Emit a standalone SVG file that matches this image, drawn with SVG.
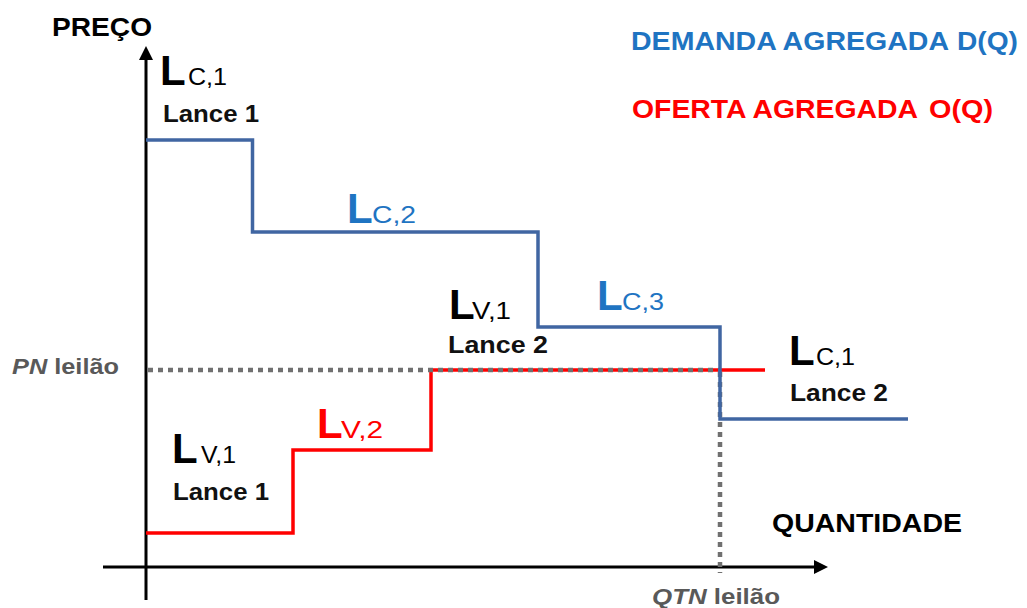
<svg xmlns="http://www.w3.org/2000/svg" width="1027" height="608" viewBox="0 0 1027 608">
<defs>
<marker id="arrow" viewBox="0 0 10 10" refX="4" refY="5" markerWidth="14" markerHeight="14" markerUnits="userSpaceOnUse" orient="auto">
<path d="M0,0 L10,5 L0,10 z" fill="#000"/>
</marker>
</defs>
<style>
text{font-family:"Liberation Sans",Arial,sans-serif;}
.ax{stroke:#000;stroke-width:3;fill:none;}
.big{font-size:42px;font-weight:bold;}
.sub{font-size:23px;}
.lance{font-size:23px;font-weight:bold;fill:#111;}
.title{font-size:25px;font-weight:bold;}
.blue{fill:#1f74c2;}
.red{fill:#ff0000;}
.dem{stroke:#4066a2;stroke-width:3.5;fill:none;}
.ofe{stroke:#ff0000;stroke-width:3.5;fill:none;}
.dot{stroke:#707070;stroke-width:4.5;stroke-dasharray:5 5;fill:none;}
.gray{fill:#595959;font-size:22px;font-weight:bold;}
</style>
<rect width="1027" height="608" fill="#fff"/>
<g id="axes">
<line class="ax" x1="146" y1="600" x2="146" y2="54.4" marker-end="url(#arrow)"/>
<line class="ax" x1="103" y1="567" x2="819.6" y2="567" marker-end="url(#arrow)"/>
</g>
<g id="connectors">
<path id="oferta" class="ofe" d="M146,533 H293 V450 H431 V370 H765"/>
<path class="dot" d="M148,370 H720"/>
<path class="dot" d="M720,372 V573"/>
<path id="demanda" class="dem" d="M146,140 H252.5 V232 H538 V327 H720 V419 H908"/>
</g>
<g id="axis-labels">
<text x="52" y="36" class="title" textLength="100" lengthAdjust="spacingAndGlyphs">PREÇO</text>
<text x="772" y="532" class="title" textLength="190" lengthAdjust="spacingAndGlyphs">QUANTIDADE</text>
<text x="12" y="374" class="gray" textLength="107" lengthAdjust="spacingAndGlyphs"><tspan font-style="italic">PN</tspan> leilão</text>
<text x="652" y="604" class="gray" textLength="128" lengthAdjust="spacingAndGlyphs"><tspan font-style="italic">QTN</tspan> leilão</text>
</g>
<g id="legend">
<text x="631" y="50" class="title blue" font-size="26" textLength="318" lengthAdjust="spacingAndGlyphs">DEMANDA AGREGADA</text>
<text x="957" y="50" class="title blue" font-size="26" textLength="61" lengthAdjust="spacingAndGlyphs">D(Q)</text>
<text x="632" y="118" class="title red" font-size="26" textLength="286" lengthAdjust="spacingAndGlyphs">OFERTA AGREGADA</text>
<text x="929" y="118" class="title red" font-size="26" textLength="64" lengthAdjust="spacingAndGlyphs">O(Q)</text>
</g>
<g id="lc1-lance1">
<text x="160" y="85" class="big">L</text>
<text x="188" y="85" class="sub" textLength="39" lengthAdjust="spacingAndGlyphs">C,1</text>
<text x="163" y="122" class="lance" textLength="96" lengthAdjust="spacingAndGlyphs">Lance 1</text>
</g>
<g id="lc2">
<text x="347" y="223" class="big blue">L</text>
<text x="372" y="223" class="sub blue" textLength="44" lengthAdjust="spacingAndGlyphs">C,2</text>
</g>
<g id="lv1-lance2">
<text x="449" y="319" class="big">L</text>
<text x="472" y="319" class="sub" textLength="39" lengthAdjust="spacingAndGlyphs">V,1</text>
<text x="448" y="353" class="lance" textLength="100" lengthAdjust="spacingAndGlyphs">Lance 2</text>
</g>
<g id="lc3">
<text x="597" y="310" class="big blue">L</text>
<text x="622" y="310" class="sub blue" textLength="42" lengthAdjust="spacingAndGlyphs">C,3</text>
</g>
<g id="lc1-lance2">
<text x="789" y="365" class="big">L</text>
<text x="816" y="365" class="sub" textLength="39" lengthAdjust="spacingAndGlyphs">C,1</text>
<text x="790" y="401" class="lance" textLength="98" lengthAdjust="spacingAndGlyphs">Lance 2</text>
</g>
<g id="lv1-lance1">
<text x="172" y="463" class="big">L</text>
<text x="201" y="463" class="sub" textLength="35" lengthAdjust="spacingAndGlyphs">V,1</text>
<text x="173" y="500" class="lance" textLength="96" lengthAdjust="spacingAndGlyphs">Lance 1</text>
</g>
<g id="lv2">
<text x="317" y="438" class="big red">L</text>
<text x="341" y="438" class="sub red" textLength="42" lengthAdjust="spacingAndGlyphs">V,2</text>
</g>
</svg>
